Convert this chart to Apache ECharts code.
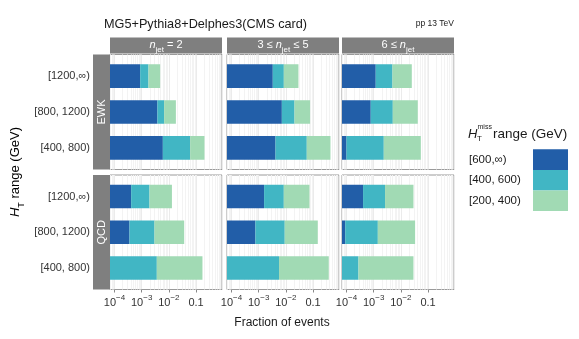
<!DOCTYPE html>
<html><head><meta charset="utf-8">
<script src="https://cdn.jsdelivr.net/npm/echarts@6/dist/echarts.min.js"></script>
<style>html,body{margin:0;padding:0;background:#fff}#c{width:579px;height:339px}</style>
</head><body><div id="c"></div><script>
// ---- data ----
const htRanges = ['[1200,\u221E)', '[800, 1200)', '[400, 800)'];
const processes = ['EWK', 'QCD'];
const htmissBins = ['[600,\u221E)', '[400, 600)', '[200, 400)'];
const xTickValues = [1e-4, 1e-3, 1e-2, 0.1];
// fraction of events per HTmiss bin; [njet column][HT range row]
const ewk600 = [[8.8e-4, 3.8e-3, 6.0e-3], [3.3e-3, 7.1e-3, 4.15e-3], [1.19e-3, 7.8e-4, 1.0e-4]];
const ewk400 = [[9.0e-4, 2.9e-3, 0.0547], [5.1e-3, 0.0136, 0.0545], [3.7e-3, 4.26e-3, 2.25e-3]];
const ewk200 = [[3.0e-3, 0.0114, 0.143], [0.0206, 0.0569, 0.377], [0.0203, 0.0368, 0.0517]];
const qcd600 = [[4.1e-4, 3.56e-4, 0], [1.58e-3, 7.6e-4, 0], [4.07e-4, 9e-5, 0]];
const qcd400 = [[1.53e-3, 2.6e-3, 3.6e-3], [6.8e-3, 8.3e-3, 5.6e-3], [2.21e-3, 1.33e-3, 2.76e-4]];
const qcd200 = [[0.011, 0.0336, 0.168], [0.0654, 0.140, 0.372], [0.0264, 0.0319, 0.0287]];
// ---- layout / style ----
const colors = ['#225ea8', '#41b6c4', '#a1dab4'];
const AXMIN = Math.pow(10, -4.165), AXMAX = Math.pow(10, -0.047);
const colLefts = [110, 227, 342], colW = 112;
const rowTops = [54.5, 175], rowH = [115, 114.5];
const BAR = 0.66;
const FONT = 'Liberation Sans, Arial, sans-serif';
const byProc = [[ewk600, ewk400, ewk200], [qcd600, qcd400, qcd200]];

const grids = [], xAxes = [], yAxes = [], series = [];
function renderSeg(params, api) {
  const j = api.value(0), lo = api.value(1), hi = api.value(2);
  if (!(hi > lo)) return null;
  const a = api.coord([lo, j - BAR / 2]);
  const b = api.coord([hi, j + BAR / 2]);
  return { type: 'rect', shape: { x: a[0], y: Math.min(a[1], b[1]), width: b[0] - a[0], height: Math.abs(b[1] - a[1]) },
    style: { fill: api.visual('color') } };
}
const supRich = {
  m: { fontSize: 11, lineHeight: 12, padding: [4, 0, 0, 0], verticalAlign: 'top', color: '#333', fontFamily: FONT },
  p: { fontSize: 8, lineHeight: 8, verticalAlign: 'top', color: '#333', fontFamily: FONT }
};
function xFmt(v) {
  const e = Math.log10(v);
  const r = Math.round(e);
  if (Math.abs(e - r) > 1e-6) return '';
  if (r === -1) return '{m|0.1}';
  if (r === 0) return '{m|1}';
  return '{m|10}{p|\u2212' + (-r) + '}';
}
for (let r = 0; r < 2; r++) {
  for (let c = 0; c < 3; c++) {
    const g = grids.length;
    grids.push({ left: colLefts[c], top: rowTops[r], width: colW, height: rowH[r], show: true,
      borderColor: '#9a9a9a', borderWidth: 1, backgroundColor: '#fff' });
    const xa = { type: 'log', logBase: 10, gridIndex: g, min: AXMIN, max: AXMAX, position: 'bottom',
      axisLine: { show: false, onZero: false },
      axisTick: { show: r === 1, length: 3, lineStyle: { color: '#888' } },
      splitLine: { show: true, lineStyle: { color: '#ebebeb', width: 1 } },
      minorTick: { show: false, splitNumber: 9 },
      minorSplitLine: { show: true, lineStyle: { color: '#f3f3f3', width: 1 } } };
    xa.axisLabel = r === 1
      ? { show: true, showMinLabel: false, showMaxLabel: false, margin: 4, formatter: xFmt, rich: supRich, fontFamily: FONT }
      : { show: false };
    xAxes.push(xa);
    yAxes.push({ type: 'value', gridIndex: g, min: -0.6, max: 2.6, inverse: true,
      axisLine: { show: false, onZero: false }, axisTick: { show: false }, splitLine: { show: false },
      axisLabel: c === 0
        ? { show: true, customValues: [0, 1, 2], margin: 20, fontSize: 11, color: '#333', fontFamily: FONT,
            formatter: v => (Number.isInteger(v) && htRanges[v]) ? htRanges[v] : '' }
        : { show: false } });
    const cum = [0, 0, 0];
    for (let k = 0; k < 3; k++) {
      const vals = byProc[r][k][c];
      const data = [];
      vals.forEach((v, j) => {
        const lo = Math.max(cum[j], AXMIN);
        const hi = cum[j] + v;
        cum[j] = hi;
        if (v > 0 && hi > lo) data.push([j, lo, hi]);
      });
      series.push({ type: 'custom', name: htmissBins[k], xAxisIndex: g, yAxisIndex: g, clip: true,
        encode: { x: [1, 2], y: 0 }, itemStyle: { color: colors[k] }, renderItem: renderSeg, data: data, z: 3 });
    }
  }
}

const graphic = [];
const stripRich = {
  t: { fontSize: 11, lineHeight: 12, verticalAlign: 'top', color: '#fff', fontFamily: FONT },
  i: { fontSize: 11, lineHeight: 12, verticalAlign: 'top', color: '#fff', fontStyle: 'italic', fontFamily: FONT },
  s: { fontSize: 8, lineHeight: 8, padding: [6, 0, 0, 0], verticalAlign: 'top', color: '#fff', fontFamily: FONT }
};
const njetLabels = ['{i|n}{s|jet}{t| = 2}', '{t|3 \u2264 }{i|n}{s|jet}{t| \u2264 5}', '{t|6 \u2264 }{i|n}{s|jet}'];
for (let c = 0; c < 3; c++) {
  graphic.push({ type: 'rect', left: colLefts[c], top: 37.5, shape: { width: colW, height: 16 }, style: { fill: '#7f7f7f' } });
  graphic.push({ type: 'text', x: colLefts[c] + colW / 2, y: 45.5,
    style: { text: njetLabels[c], rich: stripRich, align: 'center', verticalAlign: 'middle', fill: '#fff' } });
}
for (let r = 0; r < 2; r++) {
  graphic.push({ type: 'rect', left: 93, top: rowTops[r], shape: { width: 17, height: rowH[r] }, style: { fill: '#7f7f7f' } });
  graphic.push({ type: 'text', x: 101.5, y: rowTops[r] + rowH[r] / 2, rotation: Math.PI / 2,
    style: { text: processes[r], fontSize: 11, fontFamily: FONT, fill: '#fff', align: 'center', verticalAlign: 'middle' } });
}
graphic.push({ type: 'text', x: 104, y: 24, style: { text: 'MG5+Pythia8+Delphes3(CMS card)', fontSize: 12.7, fontFamily: FONT, fill: '#1a1a1a', align: 'left', verticalAlign: 'middle' } });
graphic.push({ type: 'text', x: 454, y: 24, style: { text: 'pp 13 TeV', fontSize: 8.5, fontFamily: FONT, fill: '#1a1a1a', align: 'right', verticalAlign: 'middle' } });
graphic.push({ type: 'text', x: 282, y: 323, style: { text: 'Fraction of events', fontSize: 12, fontFamily: FONT, fill: '#1a1a1a', align: 'center', verticalAlign: 'middle' } });
graphic.push({ type: 'text', x: 16, y: 172, rotation: Math.PI / 2,
  style: { text: '{i|H}{s|T}{t| range (GeV)}', align: 'center', verticalAlign: 'middle',
    rich: {
      t: { fontSize: 13, lineHeight: 14, verticalAlign: 'top', color: '#1a1a1a', fontFamily: FONT },
      i: { fontSize: 13, lineHeight: 14, verticalAlign: 'top', color: '#1a1a1a', fontStyle: 'italic', fontFamily: FONT },
      s: { fontSize: 9, lineHeight: 9, padding: [8, 0, 0, 0], verticalAlign: 'top', color: '#1a1a1a', fontFamily: FONT }
    } } });
// legend title
graphic.push({ type: 'text', x: 468, y: 134, style: { text: 'H', fontSize: 13, fontStyle: 'italic', fontFamily: FONT, fill: '#1a1a1a', verticalAlign: 'middle' } });
graphic.push({ type: 'text', x: 477, y: 139, style: { text: 'T', fontSize: 8, fontFamily: FONT, fill: '#1a1a1a', verticalAlign: 'middle' } });
graphic.push({ type: 'text', x: 477.5, y: 127.5, style: { text: 'miss', fontSize: 7, fontFamily: FONT, fill: '#1a1a1a', verticalAlign: 'middle' } });
graphic.push({ type: 'text', x: 493, y: 134, style: { text: 'range (GeV)', fontSize: 13.5, fontFamily: FONT, fill: '#1a1a1a', verticalAlign: 'middle' } });

const chart = echarts.init(document.getElementById('c'), null, { renderer: 'canvas' });
chart.setOption({
  animation: false,
  backgroundColor: '#fff',
  textStyle: { fontFamily: FONT },
  grid: grids, xAxis: xAxes, yAxis: yAxes, series: series, graphic: graphic,
  legend: { orient: 'vertical', left: 469, top: 149.3, padding: 0, itemWidth: 35, itemHeight: 20.6, itemGap: 0, align: 'right',
    icon: 'rect', selectedMode: false, data: htmissBins,
    formatter: n => '{a|' + n + '}',
    textStyle: { fontSize: 11.5, color: '#1a1a1a', fontFamily: FONT, rich: { a: { width: 59, align: 'left', fontSize: 11.5, color: '#1a1a1a', fontFamily: FONT } } } }
});
</script></body></html>
